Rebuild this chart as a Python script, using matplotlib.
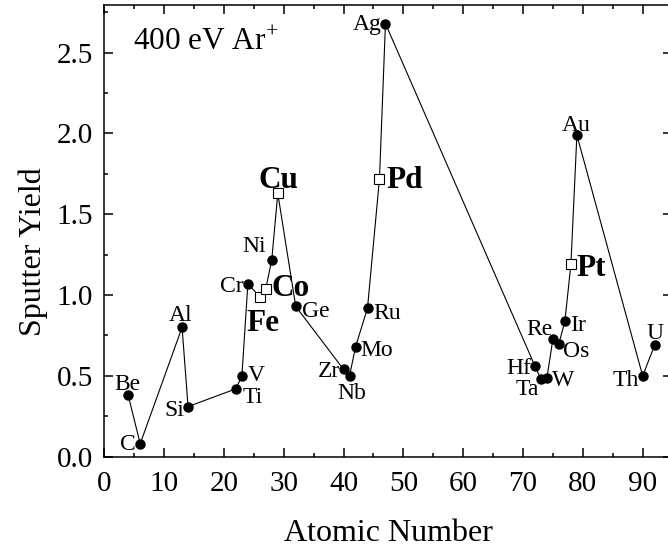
import matplotlib
matplotlib.use("Agg")
import matplotlib.pyplot as plt
from matplotlib.ticker import MultipleLocator, FormatStrFormatter

plt.rcParams['font.family'] = ['Liberation Serif', 'DejaVu Serif']
plt.rcParams['mathtext.fontset'] = 'custom'
plt.rcParams['mathtext.rm'] = 'Liberation Serif'

elements = ['Be', 'C', 'Al', 'Si', 'Ti', 'V', 'Cr', 'Fe', 'Co', 'Ni', 'Cu', 'Ge',
            'Zr', 'Nb', 'Mo', 'Ru', 'Pd', 'Ag', 'Hf', 'Ta', 'W', 'Re', 'Os', 'Ir',
            'Pt', 'Au', 'Th', 'U']
atomic_number = [4, 6, 13, 14, 22, 23, 24, 26, 27, 28, 29, 32,
                 40, 41, 42, 44, 46, 47, 72, 73, 74, 75, 76, 77,
                 78, 79, 90, 92]
sputter_yield = [0.38, 0.08, 0.80, 0.31, 0.42, 0.50, 1.07, 0.99, 1.04, 1.22, 1.63, 0.93,
                 0.54, 0.50, 0.68, 0.92, 1.72, 2.68, 0.56, 0.48, 0.49, 0.73, 0.70, 0.84,
                 1.19, 1.99, 0.50, 0.69]
highlighted = ['Fe', 'Co', 'Cu', 'Pd', 'Pt']

# label placement: (dx px, dy px, ha)
label_pos = {
    'Be': (-1, 11, 'center'), 'C': (-4, -1, 'right'),
    'Al': (-1, 12, 'center'), 'Si': (-4, -4, 'right'),
    'Ti': (7, -9, 'left'), 'V': (6, 0, 'left'),
    'Cr': (-4, -3, 'right'), 'Fe': (3, -27, 'center'),
    'Co': (6, 0, 'left'), 'Ni': (-18, 13, 'center'),
    'Cu': (1, 13, 'center'), 'Ge': (6, -5, 'left'),
    'Zr': (-4, -2, 'right'), 'Nb': (2, -18, 'center'),
    'Mo': (5, -4, 'left'), 'Ru': (6, -5, 'left'),
    'Pd': (7, -2, 'left'), 'Ag': (-4, -1, 'right'),
    'Hf': (-4, -2, 'right'), 'Ta': (-2, -10, 'right'),
    'W': (5, -3, 'left'), 'Re': (0, 9, 'right'),
    'Os': (4, -8, 'left'), 'Ir': (5, -5, 'left'),
    'Pt': (6, -4, 'left'), 'Au': (-1, 10, 'center'),
    'Th': (-4, -5, 'right'), 'U': (0, 12, 'center'),
}

W, H = 668, 548
fig = plt.figure(figsize=(W / 100, H / 100), dpi=100)
left, right, top, bottom = 104.3, 672.0, 5.0, 456.7
ax = fig.add_axes([left / W, (H - bottom) / H, (right - left) / W, (bottom - top) / H])

ax.plot(atomic_number, sputter_yield, color='black', lw=0.8, zorder=1)
for el, z, y in zip(elements, atomic_number, sputter_yield):
    if el in highlighted:
        ax.plot(z, y, marker='s', ms=7.0, mfc='white', mec='black', mew=0.8, zorder=3)
    else:
        ax.plot(z, y, marker='o', ms=6.5, mfc='black', mec='black', zorder=3)
    dx, dy, ha = label_pos[el]
    bold = el in highlighted
    ax.annotate(el, (z, y), xytext=(dx, dy), textcoords='offset pixels',
                ha=ha, va='center', fontsize=22.5 if bold else 17,
                fontweight='bold' if bold else 'normal')

ax.text(0.051, 0.900, r'400 eV Ar$^{+}$', transform=ax.transAxes,
        fontsize=22.5, ha='left', va='baseline')

ax.set_xlim(0, 94.9)
ax.set_ylim(0, 2.795)
ax.xaxis.set_major_locator(MultipleLocator(10))
ax.xaxis.set_minor_locator(MultipleLocator(5))
ax.yaxis.set_major_locator(MultipleLocator(0.5))
ax.yaxis.set_minor_locator(MultipleLocator(0.25))
ax.yaxis.set_major_formatter(FormatStrFormatter('%.1f'))
ax.tick_params(which='both', direction='in', top=True, right=True, labelsize=21, width=1.1)
ax.tick_params(which='major', length=6.5)
ax.tick_params(which='minor', length=3.2)
ax.tick_params(axis='x', which='major', pad=10)
ax.tick_params(axis='y', which='major', pad=8)
for s in ax.spines.values():
    s.set_linewidth(1.1)

ax.set_xlabel('Atomic Number', fontsize=23, labelpad=16)
ax.set_ylabel('Sputter Yield', fontsize=23, labelpad=12)
ax.yaxis.set_label_coords(-0.1, 0.455)
ax.yaxis.label.set_horizontalalignment('center')

fig.savefig('out.png', dpi=100)
